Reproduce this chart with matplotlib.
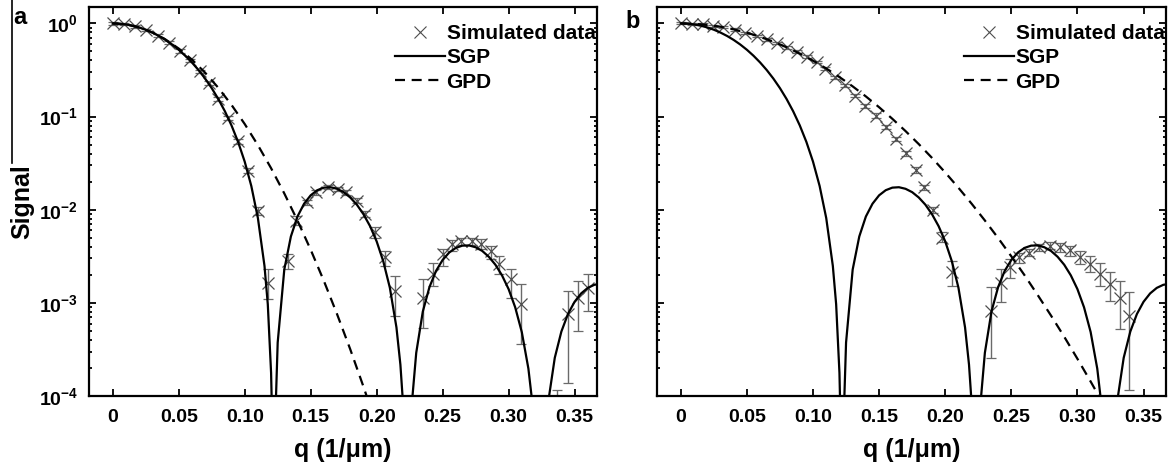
import numpy as np
import matplotlib
matplotlib.use('Agg')
import matplotlib.pyplot as plt
from matplotlib.lines import Line2D
from matplotlib.ticker import FixedLocator, FuncFormatter, LogLocator, NullFormatter

plt.rcParams['font.family'] = ['Liberation Sans', 'DejaVu Sans']
plt.rcParams['font.weight'] = 'bold'
plt.rcParams['mathtext.fontset'] = 'custom'
plt.rcParams['mathtext.rm'] = 'Liberation Sans:bold'
plt.rcParams['mathtext.bf'] = 'Liberation Sans:bold'
plt.rcParams['mathtext.default'] = 'bf'

# SGP curve (same in both panels)
sgp_q = [0.000, 0.005, 0.010, 0.015, 0.020, 0.025, 0.030, 0.035, 0.040, 0.045,
         0.050, 0.055, 0.060, 0.065, 0.070, 0.075, 0.080, 0.085, 0.090, 0.095,
         0.100, 0.105, 0.110, 0.115, 0.1175, 0.120, 0.121, 0.1219, 0.123, 0.125,
         0.130, 0.135, 0.140, 0.145, 0.150, 0.155, 0.160, 0.165, 0.170, 0.175,
         0.180, 0.185, 0.190, 0.195, 0.200, 0.205, 0.210, 0.215, 0.218, 0.220,
         0.221, 0.2233, 0.225, 0.227, 0.230, 0.235, 0.240, 0.245, 0.250, 0.255,
         0.260, 0.265, 0.270, 0.275, 0.280, 0.285, 0.290, 0.295, 0.300, 0.305,
         0.310, 0.315, 0.318, 0.320, 0.3238, 0.328, 0.330, 0.335, 0.340, 0.345,
         0.350, 0.355, 0.360, 0.365, 0.370]
sgp_val = [1.0, 0.9939, 0.9756, 0.9458, 0.9053, 0.8554, 0.7975, 0.7332, 0.6645, 0.5931,
           0.5209, 0.4495, 0.3806, 0.3157, 0.2558, 0.2018, 0.1544, 0.1139, 0.0803, 0.0534,
           0.03283, 0.01799, 0.00814, 0.002493, 0.000967, 0.0001773, 0.0000419, 1e-8, 0.0000459, 0.0003745,
           0.002275, 0.005158, 0.008455, 0.01159, 0.01427, 0.01619, 0.01725, 0.01743, 0.01676, 0.01543,
           0.01352, 0.01132, 0.00895, 0.00666, 0.00457, 0.00280, 0.001455, 0.000546, 0.000217, 0.0000826,
           0.0000395, 1e-8, 0.0000203, 0.0000936, 0.000291, 0.000808, 0.001473, 0.002202, 0.002887, 0.003472,
           0.003889, 0.004114, 0.004134, 0.003953, 0.003611, 0.003124, 0.002567, 0.001974, 0.001405, 0.000896,
           0.000486, 0.000197, 0.0000844, 0.0000368, 1e-8, 0.0000403, 0.0000858, 0.000257, 0.000492, 0.000759,
           0.001026, 0.001263, 0.001447, 0.001563, 0.001600]

# GPD curves
gpd_a_q = [0.00, 0.01, 0.02, 0.03, 0.04, 0.05, 0.06, 0.07, 0.08, 0.09, 0.10,
           0.11, 0.12, 0.13, 0.14, 0.15, 0.16, 0.17, 0.18, 0.19, 0.20]
gpd_a_val = [1.0, 0.9754, 0.9053, 0.7993, 0.6719, 0.5370, 0.4086, 0.2956, 0.2036, 0.1334, 0.0832,
             0.0493, 0.0279, 0.01496, 0.00764, 0.00372, 0.00172, 0.000756, 0.000317, 0.000126, 0.0000479]
gpd_b_q = [0.00, 0.01, 0.02, 0.03, 0.04, 0.05, 0.06, 0.07, 0.08, 0.09, 0.10, 0.11,
           0.12, 0.13, 0.14, 0.15, 0.16, 0.17, 0.18, 0.19, 0.20, 0.21, 0.22, 0.23,
           0.24, 0.25, 0.26, 0.27, 0.28, 0.29, 0.30, 0.31, 0.32, 0.33]
gpd_b_val = [1.0, 0.9908, 0.9638, 0.9204, 0.8630, 0.7943, 0.7178, 0.6368, 0.5546, 0.4742, 0.3981, 0.3281,
             0.2655, 0.2109, 0.1644, 0.1259, 0.0946, 0.0698, 0.0506, 0.0360, 0.0251, 0.0172, 0.01159, 0.00766,
             0.00497, 0.00316, 0.00198, 0.00121, 0.000731, 0.000433, 0.000251, 0.000143, 0.0000802, 0.0000441]

# simulated data, panel a (value, lower and upper end of error bar)
sim_a_q = [0.000, 0.0085, 0.017, 0.0255, 0.0345, 0.043, 0.051, 0.0585, 0.066, 0.073,
           0.080, 0.0875, 0.095, 0.1025, 0.110, 0.1177,
           0.133, 0.139, 0.147, 0.154, 0.163, 0.171, 0.177, 0.185, 0.191, 0.1985, 0.206, 0.2136,
           0.235, 0.243, 0.250, 0.257, 0.264, 0.272, 0.279, 0.287, 0.293, 0.302, 0.3096,
           0.337, 0.345, 0.3525, 0.360]
sim_a_val = [1.0, 0.978, 0.93, 0.85, 0.74, 0.62, 0.505, 0.40, 0.305, 0.228,
             0.155, 0.096, 0.054, 0.0262, 0.0098, 0.00165,
             0.00283, 0.00762, 0.0120, 0.0153, 0.0174, 0.0167, 0.0153, 0.0125, 0.0090, 0.0057, 0.00307, 0.00135,
             0.00114, 0.00204, 0.00334, 0.00428, 0.00464, 0.00464, 0.00428, 0.00362, 0.00261, 0.00180, 0.00097,
             0.00006, 0.00076, 0.00114, 0.00146]
sim_a_lo = [0.97, 0.95, 0.90, 0.82, 0.71, 0.595, 0.485, 0.383, 0.292, 0.218,
            0.148, 0.091, 0.051, 0.0245, 0.0088, 0.0011,
            0.0023, 0.0068, 0.0112, 0.0145, 0.0165, 0.0159, 0.0145, 0.0117, 0.0083, 0.00496, 0.0025, 0.000725,
            0.000542, 0.00152, 0.0025, 0.00362, 0.0042, 0.0042, 0.0038, 0.00295, 0.00204, 0.00114, 0.00036,
            0.00001, 0.000139, 0.0005, 0.00082]
sim_a_hi = [1.03, 1.005, 0.96, 0.88, 0.77, 0.645, 0.525, 0.417, 0.318, 0.238,
            0.162, 0.101, 0.057, 0.028, 0.0108, 0.0023,
            0.00334, 0.0085, 0.0128, 0.0161, 0.0183, 0.0175, 0.0161, 0.0133, 0.0097, 0.00645, 0.0036, 0.00195,
            0.0018, 0.00271, 0.00378, 0.00472, 0.0050, 0.0050, 0.0048, 0.0041, 0.0032, 0.0023, 0.00159,
            0.000116, 0.00135, 0.00173, 0.00204]

# simulated data, panel b
sim_b_q = [0.000, 0.0081, 0.0169, 0.0245, 0.0321, 0.0410, 0.0486, 0.0575, 0.0651, 0.0727,
           0.0803, 0.0879, 0.0954, 0.1030, 0.1093, 0.1169, 0.1245, 0.1321, 0.1397, 0.1473,
           0.1549, 0.1625, 0.1701, 0.1777, 0.1840, 0.1911, 0.1979, 0.2055,
           0.2346, 0.2422, 0.2493, 0.2561, 0.2637, 0.2713, 0.2789, 0.2865, 0.2941, 0.3017,
           0.3093, 0.3169, 0.3245, 0.3321, 0.3392]
sim_b_val = [1.0, 0.993, 0.974, 0.945, 0.907, 0.860, 0.795, 0.735, 0.672, 0.614,
             0.554, 0.497, 0.438, 0.386, 0.326, 0.265, 0.216, 0.168, 0.131, 0.1025,
             0.077, 0.0576, 0.0403, 0.0268, 0.0174, 0.0100, 0.00503, 0.00213,
             0.00082, 0.00165, 0.00244, 0.00307, 0.00347, 0.00393, 0.00410, 0.00393, 0.00369, 0.00312,
             0.00261, 0.00204, 0.00159, 0.00114, 0.00072]
sim_b_lo = [0.975, 0.968, 0.95, 0.92, 0.883, 0.837, 0.773, 0.714, 0.652, 0.595,
            0.536, 0.481, 0.423, 0.373, 0.314, 0.255, 0.207, 0.161, 0.125, 0.097,
            0.073, 0.054, 0.0378, 0.025, 0.0163, 0.0092, 0.0045, 0.00152,
            0.000258, 0.00103, 0.00187, 0.0027, 0.00315, 0.0036, 0.00375, 0.00355, 0.0032, 0.00261,
            0.00212, 0.00152, 0.00105, 0.00052, 0.000115]
sim_b_hi = [1.025, 1.018, 0.998, 0.97, 0.931, 0.883, 0.817, 0.756, 0.692, 0.633,
            0.572, 0.513, 0.453, 0.399, 0.338, 0.275, 0.225, 0.175, 0.137, 0.108,
            0.081, 0.061, 0.0428, 0.0286, 0.0185, 0.0108, 0.0058, 0.00283,
            0.00149, 0.0023, 0.00295, 0.00345, 0.0038, 0.0043, 0.00445, 0.00435, 0.0041, 0.00362,
            0.0032, 0.00271, 0.00217, 0.00173, 0.00132]

x_ticks = [0, 0.05, 0.10, 0.15, 0.20, 0.25, 0.30, 0.35]
x_ticklabels = ['0', '0.05', '0.10', '0.15', '0.20', '0.25', '0.30', '0.35']

gray = '#4d4d4d'
ebar = '#6a6a6a'
dash = (0, (4.5, 3))

W, H = 1174, 468
fig = plt.figure(figsize=(W / 100, H / 100), dpi=100)
ax_a = fig.add_axes([89 / W, 72 / H, 508 / W, 389 / H])
ax_b = fig.add_axes([657 / W, 72 / H, 509 / W, 389 / H])


def draw_panel(ax, gq, gv, sq, sv, slo, shi):
    ax.plot(sgp_q, sgp_val, color='k', lw=1.6, zorder=3)
    ax.plot(gq, gv, color='k', lw=1.6, ls=dash, zorder=3)
    sv = np.array(sv)
    yerr = [sv - np.array(slo), np.array(shi) - sv]
    ax.errorbar(sq, sv, yerr=yerr, fmt='x', color=gray, ms=8.5, mew=0.9,
                ecolor=ebar, elinewidth=1.0, capsize=3.5, capthick=1.0, zorder=2)

    ax.set_yscale('log')
    ax.set_ylim(1e-4, 1.5)
    ax.set_xlim(-0.018, 0.367)
    ax.xaxis.set_major_locator(FixedLocator(x_ticks))
    ax.set_xticklabels(x_ticklabels)
    ax.yaxis.set_major_locator(LogLocator(base=10, numticks=10))
    ax.yaxis.set_minor_locator(LogLocator(base=10, subs=np.arange(2, 10), numticks=20))
    ax.yaxis.set_minor_formatter(NullFormatter())
    ax.tick_params(which='both', direction='in', top=True, right=True, width=1.3)
    ax.tick_params(which='major', length=5)
    ax.tick_params(which='minor', length=2.5)
    ax.tick_params(axis='x', labelsize=14, pad=9)
    ax.tick_params(axis='y', labelsize=14, pad=8)
    for s in ax.spines.values():
        s.set_linewidth(1.6)

    handles = [Line2D([], [], ls='none', marker='x', color=gray, ms=9, mew=0.8),
               Line2D([], [], color='k', lw=1.6),
               Line2D([], [], color='k', lw=1.6, ls=dash)]
    ax.legend(handles, ['Simulated data', 'SGP', 'GPD'], loc='upper right',
              bbox_to_anchor=(0.997, 0.956), frameon=False,
              prop={'size': 15, 'weight': 'bold'}, handlelength=2.4,
              handletextpad=0.1, labelspacing=0.25, borderpad=0, borderaxespad=0)

    ax.set_xlabel('q (1/μm)', fontsize=18, fontweight='bold')
    ax.xaxis.set_label_coords(0.5, -0.108)


draw_panel(ax_a, gpd_a_q, gpd_a_val, sim_a_q, sim_a_val, sim_a_lo, sim_a_hi)
draw_panel(ax_b, gpd_b_q, gpd_b_val, sim_b_q, sim_b_val, sim_b_lo, sim_b_hi)

ax_a.yaxis.set_major_formatter(FuncFormatter(lambda y, pos: r'$10^{%d}$' % round(np.log10(y))))
ax_b.yaxis.set_major_formatter(NullFormatter())

ax_a.set_ylabel('Signal', fontsize=18, fontweight='bold')
ax_a.yaxis.set_label_coords(-0.108, 0.5)

fig.text(13 / W, 1 - 24 / H, 'a', fontsize=17, fontweight='bold', ha='left', va='baseline')
fig.text(625 / W, 1 - 28 / H, 'b', fontsize=17, fontweight='bold', ha='left', va='baseline')
fig.add_artist(Line2D([11.5 / W, 11.5 / W], [1, 1 - 163 / H], transform=fig.transFigure,
                      color='k', lw=1.2))

fig.savefig('out.png', dpi=100)
